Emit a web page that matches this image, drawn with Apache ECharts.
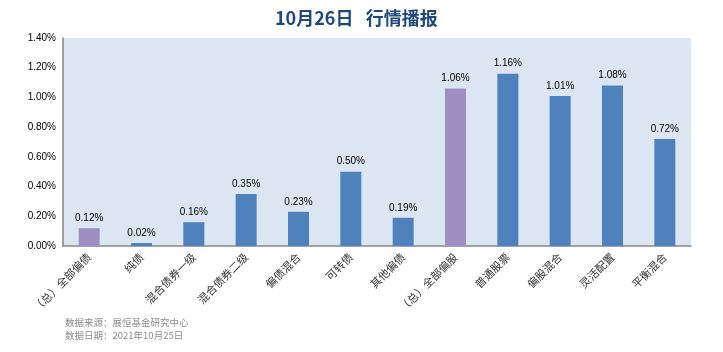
<!DOCTYPE html>
<html><head><meta charset="utf-8">
<script src="https://cdn.jsdelivr.net/npm/echarts@6/dist/echarts.min.js"></script>
<style>html,body{margin:0;padding:0;background:#fff}#c{width:723px;height:352px}</style>
</head><body><div id="c"></div>
<script>
var categories = ['（总）全部偏债','纯债','混合债券一级','混合债券二级','偏债混合','可转债','其他偏债','（总）全部偏股','普通股票','偏股混合','灵活配置','平衡混合'];
var values = [0.12, 0.02, 0.16, 0.35, 0.23, 0.50, 0.19, 1.06, 1.16, 1.01, 1.08, 0.72];
var highlighted = [true, false, false, false, false, false, false, true, false, false, false, false];
var titleText = '10月26日   行情播报';
var sourceText = '数据来源：展恒基金研究中心';
var dateText = '数据日期：2021年10月25日';

var chart = echarts.init(document.getElementById('c'), null, {renderer:'canvas'});
var cjk = '"Noto Sans CJK SC", sans-serif';
chart.setOption({
  animation:false,
  backgroundColor:'#fff',
  title:{text:titleText,left:270,top:4,textStyle:{fontFamily:cjk,fontSize:18,fontWeight:'bold',color:'#1f497d'}},
  graphic:[
    {type:'text',left:65,top:318,style:{text:sourceText,fontFamily:cjk,fontSize:9.5,fill:'#8c8c8c'}},
    {type:'text',left:65,top:331,style:{text:dateText,fontFamily:cjk,fontSize:9.5,fill:'#8c8c8c'}}
  ],
  grid:{left:63,right:32,top:38,bottom:106,show:true,backgroundColor:'#dce6f2',borderWidth:0},
  xAxis:{type:'category',data:categories,
    axisLine:{show:true,lineStyle:{color:'#868686',width:1.5}},
    axisTick:{show:false},
    axisLabel:{rotate:45,interval:0,fontFamily:cjk,fontSize:11,color:'#333',margin:9}},
  yAxis:{type:'value',min:0,max:1.4,interval:0.2,
    axisLine:{show:true,lineStyle:{color:'#868686',width:1.5}},
    axisTick:{show:false},splitLine:{show:false},
    axisLabel:{formatter:function(v){return v.toFixed(2)+'%';},fontFamily:'Liberation Sans, sans-serif',fontSize:10,color:'#000',margin:7}},
  series:[{type:'bar',barWidth:21,
    data:values.map(function(v,i){return {value:v,itemStyle:{color:highlighted[i]?'#9f8ec2':'#4f81bd'}};}),
    label:{show:true,position:'top',distance:5,fontFamily:'Liberation Sans, sans-serif',fontSize:10,color:'#000',
      formatter:function(p){return p.value.toFixed(2)+'%';}}}]
});
</script></body></html>
